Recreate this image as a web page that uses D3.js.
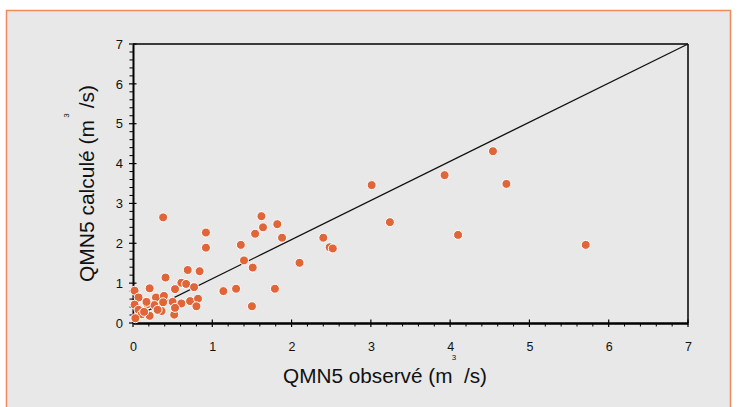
<!DOCTYPE html>
<html><head><meta charset="utf-8">
<script src="https://cdn.jsdelivr.net/npm/d3@7"></script>
<style>body{margin:0;background:#fff}svg{display:block}text{font-family:"Liberation Sans",Arial,sans-serif;fill:#111}</style>
</head><body>
<svg id="c" width="737" height="407"></svg>
<script>
const observed = [0.02,0.07,0.21,0.29,0.39,0.02,0.18,0.27,0.17,0.38,0.50,0.53,0.61,0.67,0.77,0.61,0.72,0.82,0.80,0.52,0.53,0.36,0.21,0.07,0.11,0.03,0.31,0.14,
  0.38,0.92,0.92,0.41,0.69,0.84,1.14,1.30,1.79,1.50,1.36,1.40,1.51,1.54,1.62,1.64,1.82,1.88,2.10,2.40,2.48,2.52,
  3.01,3.24,3.93,4.10,4.54,4.71,5.71];
const calculated = [0.81,0.64,0.87,0.64,0.68,0.46,0.47,0.45,0.53,0.52,0.53,0.85,1.01,0.98,0.90,0.49,0.55,0.61,0.42,0.21,0.38,0.30,0.18,0.33,0.22,0.12,0.33,0.28,
  2.65,2.27,1.89,1.14,1.33,1.30,0.80,0.86,0.86,0.42,1.96,1.57,1.39,2.24,2.68,2.40,2.48,2.14,1.51,2.14,1.90,1.87,
  3.46,2.53,3.71,2.21,4.31,3.49,1.96];
const lineX = [0, 7];
const lineY = [0.13, 7];
const tickValues = [0,1,2,3,4,5,6,7];
const xTitle = "QMN5 observé (m  /s)";
const yTitle = "QMN5 calculé (m  /s)";
const supText = "3";

const svg = d3.select("#c");
svg.append("rect").attr("x",6.5).attr("y",10.5).attr("width",724).attr("height",420)
  .attr("fill","#e8e8e8").attr("stroke","#ee8a5c").attr("stroke-width",1.5);

const x = d3.scaleLinear().domain([0,7]).range([133,688]);
const y = d3.scaleLinear().domain([0,7]).range([323,44]);

svg.append("line").attr("x1",x(0)).attr("x2",x(7)).attr("y1",y(7)).attr("y2",y(7)).attr("stroke","#000").attr("stroke-width",1.5);
svg.append("line").attr("x1",x(7)).attr("x2",x(7)).attr("y1",y(0)).attr("y2",y(7)).attr("stroke","#000").attr("stroke-width",1.5);

const minor = d3.range(0,35).map(i=>i/5).filter(v=>Math.abs(v-Math.round(v))>1e-6);
svg.append("g").selectAll("line").data(minor).join("line")
  .attr("x1",d=>x(d)).attr("x2",d=>x(d)).attr("y1",323).attr("y2",326.5).attr("stroke","#000").attr("stroke-width",1);
svg.append("g").selectAll("line").data(minor).join("line")
  .attr("y1",d=>y(d)).attr("y2",d=>y(d)).attr("x1",129.5).attr("x2",133).attr("stroke","#000").attr("stroke-width",1);

const xAxis = d3.axisBottom(x).tickValues(tickValues).tickSize(0).tickPadding(19).tickFormat(d3.format("d"));
const gx = svg.append("g").attr("transform","translate(0,323)").call(xAxis);
gx.select(".domain").attr("stroke","#000").attr("stroke-width",2.5);
gx.selectAll("text").attr("font-size","12.5px").attr("font-family","Liberation Sans, Arial, sans-serif").attr("fill","#111");
const yAxis = d3.axisLeft(y).tickValues(tickValues).tickSize(0).tickPadding(10).tickFormat(d3.format("d"));
const gy = svg.append("g").attr("transform","translate(133,0)").call(yAxis);
gy.select(".domain").attr("stroke","#000").attr("stroke-width",2);
gy.selectAll("text").attr("font-size","13px").attr("font-family","Liberation Sans, Arial, sans-serif").attr("fill","#111");

svg.append("g").selectAll("line").data(tickValues).join("line")
  .attr("x1",d=>x(d)).attr("x2",d=>x(d)).attr("y1",319.5).attr("y2",327).attr("stroke","#000").attr("stroke-width",1.2);
svg.append("g").selectAll("line").data(tickValues).join("line")
  .attr("y1",d=>y(d)).attr("y2",d=>y(d)).attr("x1",129).attr("x2",136.5).attr("stroke","#000").attr("stroke-width",1.2);

svg.append("line").attr("x1",x(lineX[0])).attr("y1",y(lineY[0])).attr("x2",x(lineX[1])).attr("y2",y(lineY[1]))
  .attr("stroke","#111").attr("stroke-width",1.3);

const pts = observed.map((v,i)=>({x:v,y:calculated[i]}));
svg.append("g").selectAll("circle").data(pts).join("circle")
  .attr("cx",d=>x(d.x)).attr("cy",d=>y(d.y)).attr("r",4.5)
  .attr("fill","#e0663a").attr("stroke","#fff").attr("stroke-width",1);

svg.append("text").attr("x",283).attr("y",383).attr("font-size","19.5px").style("white-space","pre")
  .attr("textLength",204).attr("lengthAdjust","spacingAndGlyphs").text(xTitle);
svg.append("text").attr("x",454).attr("y",360).attr("font-size","8px").attr("text-anchor","middle").text(supText);
svg.append("text").attr("transform","translate(94,282) rotate(-90)").attr("font-size","19.5px").style("white-space","pre")
  .attr("textLength",197).attr("lengthAdjust","spacingAndGlyphs").text(yTitle);
svg.append("text").attr("transform","translate(69,115.5) rotate(-90)").attr("font-size","8px").attr("text-anchor","middle").text(supText);
</script>
</body></html>
